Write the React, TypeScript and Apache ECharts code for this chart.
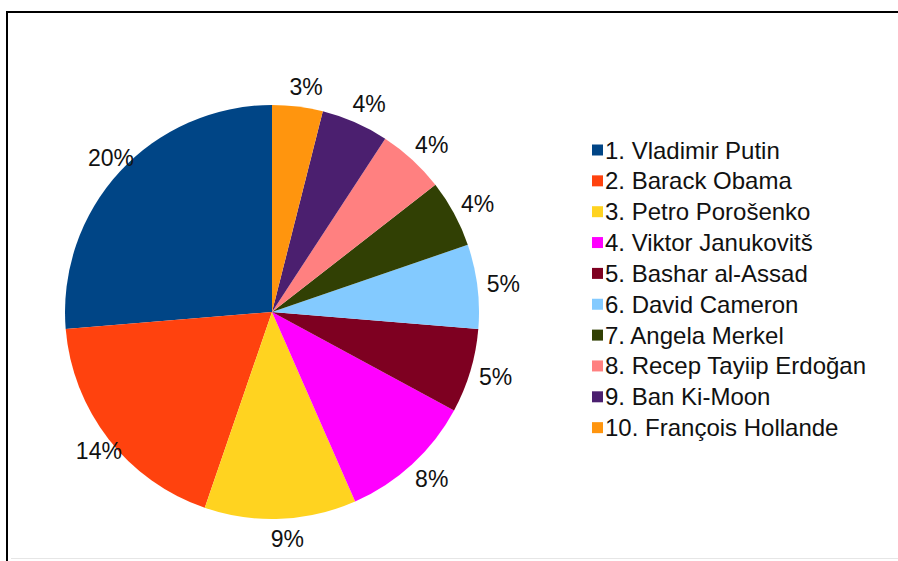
import React, { useEffect, useRef } from "react";
import * as echarts from "echarts";

const names = [
  "1. Vladimir Putin",
  "2. Barack Obama",
  "3. Petro Porošenko",
  "4. Viktor Janukovitš",
  "5. Bashar al-Assad",
  "6. David Cameron",
  "7. Angela Merkel",
  "8. Recep Tayiip Erdoğan",
  "9. Ban Ki-Moon",
  "10. François Hollande",
];
const values = [20, 14, 9, 8, 5, 5, 4, 4, 4, 3];
const colors = [
  "#004586",
  "#ff420e",
  "#ffd320",
  "#ff00ff",
  "#7e0021",
  "#83caff",
  "#314004",
  "#ff8080",
  "#4b1f6f",
  "#ff950e",
];

const FONT = "'Liberation Sans', Arial, sans-serif";

export default function App() {
  const ref = useRef<HTMLDivElement>(null);
  useEffect(() => {
    if (!ref.current) return;
    const chart = echarts.init(ref.current, null, { renderer: "svg" });
    const data = names.map((n, i) => ({ name: n, value: values[i] }));
    chart.setOption({
      animation: false,
      backgroundColor: "#ffffff",
      color: colors,
      legend: {
        data: names,
        orient: "vertical",
        left: 592,
        top: 138,
        padding: 0,
        itemWidth: 11,
        itemHeight: 11,
        itemGap: 6.85,
        icon: "rect",
        selectedMode: false,
        textStyle: {
          fontFamily: FONT,
          fontSize: 24,
          lineHeight: 24,
          color: "#111",
          padding: [0, 0, 0, -3],
        },
      },
      graphic: [
        { type: "line", shape: { x1: 6, y1: 12, x2: 898, y2: 12 }, style: { stroke: "#000", lineWidth: 2 } },
        { type: "line", shape: { x1: 7, y1: 11, x2: 7, y2: 561 }, style: { stroke: "#000", lineWidth: 2 } },
        { type: "line", shape: { x1: 11, y1: 558.5, x2: 898, y2: 558.5 }, style: { stroke: "#e6e6e6", lineWidth: 1 } },
      ],
      series: [
        {
          type: "pie",
          center: [272, 312],
          radius: 207,
          startAngle: 90,
          clockwise: false,
          data,
          label: { show: false },
          labelLine: { show: false },
          itemStyle: { borderWidth: 0 },
          emphasis: { disabled: true },
          silent: true,
        },
        {
          type: "pie",
          center: [272, 312],
          radius: [207, 241],
          startAngle: 90,
          clockwise: false,
          data,
          silent: true,
          itemStyle: { color: "rgba(0,0,0,0)", borderWidth: 0 },
          emphasis: { disabled: true },
          label: {
            show: true,
            position: "inside",
            formatter: "{c}%",
            fontFamily: FONT,
            fontSize: 23,
            color: "#111",
            offset: [6, 0],
          },
          labelLine: { show: false },
        },
      ],
    });
    return () => chart.dispose();
  }, []);
  return (
    <div
      ref={ref}
      style={{ position: "absolute", left: 0, top: 0, width: 898, height: 561 }}
    />
  );
}
